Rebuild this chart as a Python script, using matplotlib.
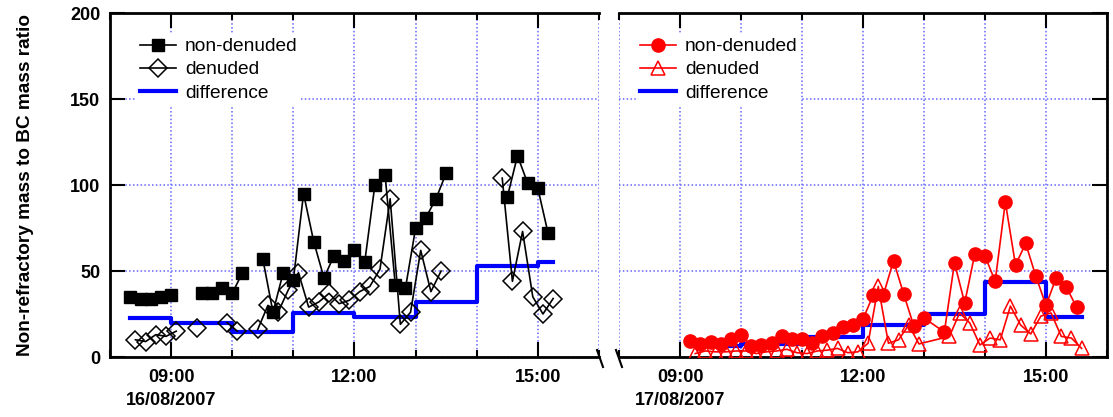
import numpy as np
import matplotlib
matplotlib.use("Agg")
import matplotlib.pyplot as plt
from matplotlib.lines import Line2D
from matplotlib.ticker import FixedLocator, NullFormatter

plt.rcParams['font.family'] = ['Liberation Sans', 'DejaVu Sans']

# 16/08/2007 (left panel); None marks a gap in the record
nd1_time = ["08:20", "08:30", "08:40", "08:50", "09:00", "09:10",
            "09:30", "09:40", "09:50", "10:00", "10:10", "10:20",
            "10:30", "10:40", "10:50", "11:00", "11:10", "11:20", "11:30", "11:40", "11:50",
            "12:00", "12:10", "12:20", "12:30", "12:40", "12:50", "13:00", "13:10", "13:20", "13:30",
            "13:40",
            "14:30", "14:40", "14:50", "15:00", "15:10"]
nd1_val = [35, 34, 34, 35, 36, None,
           37, 37, 40, 37, 49, None,
           57, 26, 49, 45, 95, 67, 46, 59, 56,
           62, 55, 100, 106, 42, 40, 75, 81, 92, 107,
           None,
           93, 117, 101, 98, 72]

d1_time = ["08:25", "08:35", "08:45", "08:55", "09:05", "09:15",
           "09:25", "09:35",
           "09:55", "10:05", "10:15",
           "10:25", "10:35", "10:45", "10:55", "11:05", "11:15", "11:25", "11:35", "11:45", "11:55",
           "12:05", "12:15", "12:25", "12:35", "12:45", "12:55", "13:05", "13:15", "13:25",
           "13:35",
           "14:25", "14:35", "14:45", "14:55", "15:05", "15:15"]
d1_val = [10, 9, 13, 12, 15, None,
          17, None,
          20, 15, None,
          16, 30, 26, 39, 49, 29, 32, 37, 31, 33,
          38, 41, 51, 92, 19, 26, 62, 38, 50,
          None,
          104, 44, 73, 35, 25, 34]

diff1_time = ["08:20", "09:00", "10:00", "11:00", "12:00", "13:00", "14:00", "15:00", "15:15"]
diff1_val = [22.5, 20, 14.5, 25.5, 23, 32, 53, 55, 55]

# 17/08/2007 (right panel)
nd2_time = ["09:10", "09:20", "09:30", "09:40", "09:50", "10:00", "10:10", "10:20", "10:30",
            "10:40", "10:50", "11:00", "11:10", "11:20", "11:30", "11:40", "11:50", "12:00",
            "12:10", "12:20", "12:30", "12:40", "12:50", "13:00", "13:20", "13:30", "13:40",
            "13:50", "14:00", "14:10", "14:20", "14:30", "14:40", "14:50", "15:00", "15:10",
            "15:20", "15:30"]
nd2_val = [9.3, 7.6, 8.7, 7.6, 10.5, 12.8, 6.4, 7, 8.1,
           12.2, 10.5, 10.5, 8.1, 12.2, 14, 17.5, 18.6, 22,
           36, 36, 56, 36.6, 18, 22.7, 14.5, 54.7, 31.4,
           60, 58.7, 44, 90, 53.5, 66, 47, 30, 46,
           40.7, 29]

d2_time = ["09:15", "09:25", "09:35", "09:45", "09:55", "10:05", "10:15", "10:25", "10:35",
           "10:45", "10:55", "11:05", "11:15", "11:25", "11:35", "11:45", "11:55", "12:05",
           "12:15", "12:25", "12:35", "12:45", "12:55", "13:25", "13:35", "13:45", "13:55",
           "14:05", "14:15", "14:25", "14:35", "14:45", "14:55", "15:05", "15:15", "15:25",
           "15:35"]
d2_val = [2, 3.5, 3, 3, 3.5, 3.5, 2, 3, 3.5,
          4.5, 2.5, 2, 3.5, 4, 5, 2.5, 3, 8,
          41, 8, 10, 18.6, 7.6, 12, 25.6, 19.8, 7,
          11, 10, 29.6, 18.6, 13.4, 23.8, 25.6, 12, 11,
          5]

diff2_time = ["09:10", "10:00", "11:00", "12:00", "13:00", "14:00", "15:00", "15:35"]
diff2_val = [6.5, 7.5, 11.5, 18.5, 25, 43.5, 23.5, 23.5]


def hours(times):
    return np.array([int(t[:2]) + int(t[3:]) / 60 for t in times])


def vals(v):
    return np.array([np.nan if x is None else x for x in v], dtype=float)


W, H = 1113, 417
fig = plt.figure(figsize=(W / 100, H / 100), dpi=100)
axL = fig.add_axes([110 / W, (H - 357) / H, 489 / W, 344 / H])
axR = fig.add_axes([619 / W, (H - 357) / H, 488 / W, 344 / H])

grid_col = (0.4, 0.4, 1.0)
fs_tick = 13

for ax in (axL, axR):
    ax.set_xlim(8, 16)
    ax.set_ylim(0, 200)
    ax.xaxis.set_major_locator(FixedLocator([9, 12, 15]))
    ax.xaxis.set_minor_locator(FixedLocator(range(8, 17)))
    ax.xaxis.set_minor_formatter(NullFormatter())
    ax.yaxis.set_major_locator(FixedLocator([0, 50, 100, 150, 200]))
    ax.grid(which='both', axis='x', color=grid_col, linestyle=(0, (1, 1.5)), linewidth=1.1)
    ax.grid(which='major', axis='y', color=grid_col, linestyle=(0, (1, 1.5)), linewidth=1.1)
    ax.set_axisbelow(True)
    ax.tick_params(which='major', direction='in', length=11, width=1.5, top=True,
                   labelsize=fs_tick, pad=9)
    ax.tick_params(which='minor', direction='in', length=5, width=1.5, top=True)
    for s in ax.spines.values():
        s.set_linewidth(2)

axL.spines['right'].set_visible(False)
axL.tick_params(axis='y', right=False, pad=7)
axR.spines['left'].set_visible(False)
axR.tick_params(axis='y', left=False, right=True, labelleft=False)

axL.set_xticklabels(["09:00\n16/08/2007", "12:00", "15:00"], fontweight='bold', linespacing=1.4)
axR.set_xticklabels(["09:00\n17/08/2007", "12:00", "15:00"], fontweight='bold', linespacing=1.4)
for lab in axL.get_yticklabels():
    lab.set_fontweight('bold')

axL.set_ylabel("Non-refractory mass to BC mass ratio", fontsize=13.7, fontweight='bold', labelpad=26)

blue = (0, 0, 1)
red = (1, 0, 0)

axL.plot(hours(diff1_time), diff1_val, drawstyle='steps-post', color=blue, lw=3, label='difference', zorder=2)
axL.plot(hours(nd1_time), vals(nd1_val), color='black', lw=1.2, marker='s', ms=9,
         mfc='black', mec='black', label='non-denuded', zorder=4)
axL.plot(hours(d1_time), vals(d1_val), color='black', lw=1.2, marker='D', ms=9,
         mfc='none', mec='black', mew=1.1, label='denuded', zorder=3)

axR.plot(hours(diff2_time), diff2_val, drawstyle='steps-post', color=blue, lw=3, label='difference', zorder=2)
axR.plot(hours(nd2_time), vals(nd2_val), color=red, lw=1.2, marker='o', ms=9.5,
         mfc=red, mec=red, label='non-denuded', zorder=4)
axR.plot(hours(d2_time), vals(d2_val), color=red, lw=1.2, marker='^', ms=10,
         mfc='none', mec=red, mew=1.1, label='denuded', zorder=3)

for ax, x0 in ((axL, 26 / 489), (axR, 17 / 488)):
    h, l = ax.get_legend_handles_labels()
    order = [1, 2, 0]
    leg = ax.legend([h[i] for i in order], [l[i] for i in order], loc='upper left',
                    bbox_to_anchor=(x0, 1 - 21 / 344), borderaxespad=0, fontsize=13.8,
                    handlelength=1.9, handletextpad=0.45, labelspacing=0.3,
                    frameon=True, fancybox=False, edgecolor='none', facecolor='white',
                    framealpha=1, borderpad=0.2)
    leg.set_zorder(5)

# axis break marks
for xb in (600, 619):
    fig.add_artist(Line2D([(xb - 3) / W, (xb + 3) / W], [(H - 350) / H, (H - 367) / H],
                          color='black', lw=1.5, transform=fig.transFigure))

fig.savefig("out.png", dpi=100)
